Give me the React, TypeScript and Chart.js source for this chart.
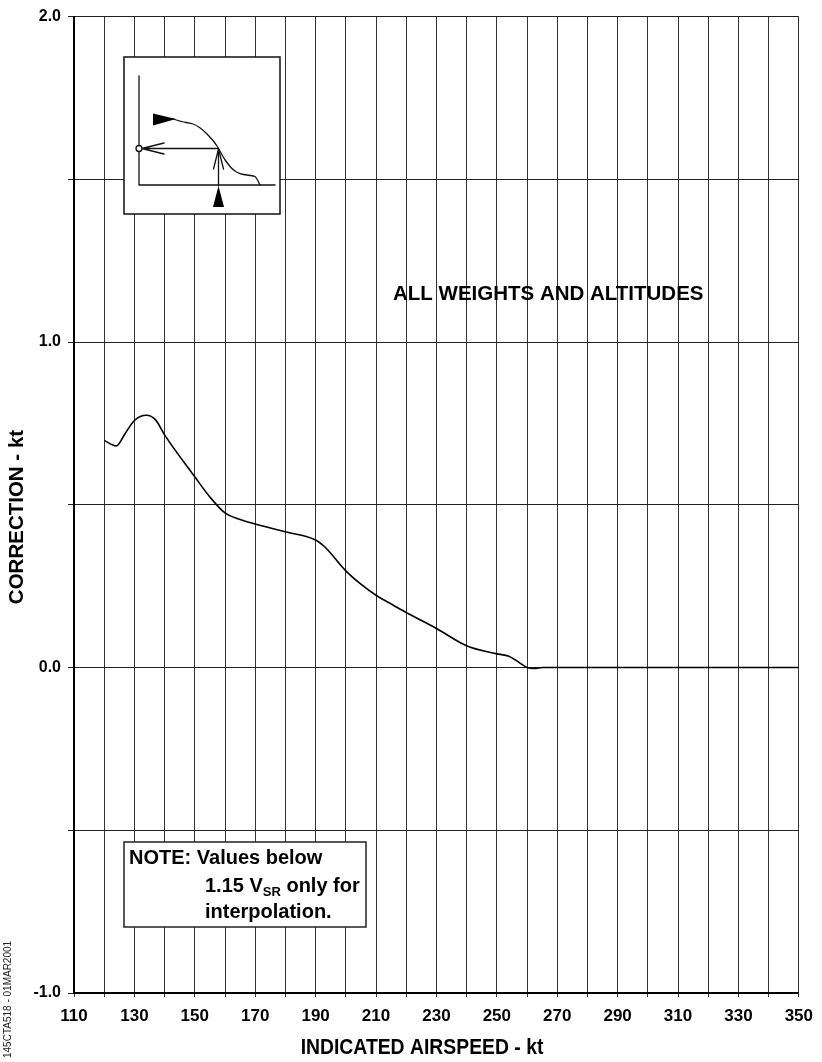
import React, { useEffect, useRef } from "react";
import { Chart, registerables } from "chart.js";

Chart.register(...registerables);

// ---- data ----
const airspeedKt: number[] = [
  120, 124, 127, 130, 134, 137, 140, 150, 155, 160, 165, 170, 180, 190, 193,
  200, 205, 210, 216, 220, 230, 240, 250, 254, 257, 260, 262.5, 265, 280, 300, 350,
];
const correctionKt: number[] = [
  0.698, 0.681, 0.72, 0.759, 0.775, 0.761, 0.715, 0.586, 0.524, 0.475, 0.455,
  0.441, 0.417, 0.392, 0.371, 0.297, 0.256, 0.222, 0.19, 0.169, 0.12, 0.067,
  0.042, 0.035, 0.018, 0.0, -0.003, 0.0, 0.0, 0.0, 0.0,
];
const xMin = 110;
const xMax = 350;
const xStep = 10;
const xLabelStep = 20;
const yMin = -1;
const yMax = 2;
const yStep = 0.5;

const xTitle = "INDICATED AIRSPEED - kt";
const yTitle = "CORRECTION - kt";
const chartNote = "ALL WEIGHTS AND ALTITUDES";
const noteLines = ["NOTE: Values below", "1.15 V", "interpolation."];
const figureCode = "145CTA518 - 01MAR2001";

const FONT = "'Liberation Sans', Arial, Helvetica, sans-serif";

const decorPlugin = {
  id: "decor",
  afterDraw(chart: any) {
    const ctx: CanvasRenderingContext2D = chart.ctx;
    ctx.save();

    // X axis title (slightly condensed, as in the reference)
    ctx.fillStyle = "#000";
    ctx.font = `bold 22px ${FONT}`;
    ctx.textAlign = "center";
    ctx.textBaseline = "middle";
    ctx.save();
    ctx.translate(422, 1048);
    ctx.scale(0.88, 1);
    ctx.fillText(xTitle, 0, 0);
    ctx.restore();

    // Y axis title
    ctx.font = `bold 20.5px ${FONT}`;
    ctx.save();
    ctx.translate(17, 517);
    ctx.rotate(-Math.PI / 2);
    ctx.fillText(yTitle, 0, 0);
    ctx.restore();

    // figure code
    ctx.save();
    ctx.font = `10px ${FONT}`;
    ctx.fillStyle = "#222";
    ctx.translate(11, 1058);
    ctx.rotate(-Math.PI / 2);
    ctx.textAlign = "left";
    ctx.textBaseline = "alphabetic";
    ctx.fillText(figureCode, 0, 0);
    ctx.restore();

    // ALL WEIGHTS AND ALTITUDES
    ctx.font = `bold 20.5px ${FONT}`;
    ctx.textAlign = "left";
    ctx.textBaseline = "alphabetic";
    ctx.fillText(chartNote, 393, 300);

    // Note box
    ctx.fillStyle = "#fff";
    ctx.fillRect(124, 842, 242, 85);
    ctx.strokeStyle = "#222";
    ctx.lineWidth = 1.5;
    ctx.strokeRect(124, 842, 242, 85);
    ctx.fillStyle = "#000";
    ctx.font = `bold 20px ${FONT}`;
    ctx.fillText(noteLines[0], 129, 864);
    let x = 205;
    ctx.fillText(noteLines[1], x, 891.5);
    x += ctx.measureText(noteLines[1]).width;
    ctx.font = `bold 13px ${FONT}`;
    ctx.fillText("SR", x, 895.5);
    x += ctx.measureText("SR").width;
    ctx.font = `bold 20px ${FONT}`;
    ctx.fillText(" only for", x, 891.5);
    ctx.fillText(noteLines[2], 205, 918);

    // Inset schematic
    ctx.fillStyle = "#fff";
    ctx.fillRect(124, 57, 156, 157);
    ctx.strokeStyle = "#111";
    ctx.lineWidth = 1.5;
    ctx.strokeRect(124, 57, 156, 157);
    ctx.lineWidth = 1.3;
    ctx.lineJoin = "round";
    ctx.lineCap = "round";
    ctx.beginPath();
    ctx.moveTo(139, 76);
    ctx.lineTo(139, 185);
    ctx.lineTo(275, 185);
    ctx.stroke();
    const pts = [
      [173, 119], [182, 122], [190, 123], [196, 125], [203, 130], [210, 137],
      [215, 143], [219, 149], [223, 157], [228, 164], [233, 170], [240, 174],
      [247, 175], [254, 176], [256, 177], [260, 185],
    ];
    ctx.beginPath();
    ctx.moveTo(pts[0][0], pts[0][1]);
    for (let i = 1; i < pts.length - 1; i++) {
      const mx = (pts[i][0] + pts[i + 1][0]) / 2;
      const my = (pts[i][1] + pts[i + 1][1]) / 2;
      ctx.quadraticCurveTo(pts[i][0], pts[i][1], mx, my);
    }
    ctx.lineTo(pts[pts.length - 1][0], pts[pts.length - 1][1]);
    ctx.stroke();
    ctx.fillStyle = "#000";
    ctx.beginPath();
    ctx.moveTo(153, 113.5);
    ctx.lineTo(153, 125.5);
    ctx.lineTo(176, 119);
    ctx.closePath();
    ctx.fill();
    ctx.beginPath();
    ctx.moveTo(213, 207);
    ctx.lineTo(224, 207);
    ctx.lineTo(218.5, 186);
    ctx.closePath();
    ctx.fill();
    ctx.beginPath();
    ctx.moveTo(218.5, 186);
    ctx.lineTo(218.5, 149);
    ctx.moveTo(213.5, 169);
    ctx.lineTo(218.5, 149);
    ctx.lineTo(223.5, 169);
    ctx.moveTo(218.5, 148.5);
    ctx.lineTo(141, 148.5);
    ctx.moveTo(164, 143);
    ctx.lineTo(142, 148.5);
    ctx.lineTo(164, 154);
    ctx.stroke();
    ctx.beginPath();
    ctx.arc(139, 148.5, 3, 0, Math.PI * 2);
    ctx.fillStyle = "#fff";
    ctx.fill();
    ctx.stroke();

    ctx.restore();
  },
};

export default function App() {
  const canvasRef = useRef<HTMLCanvasElement | null>(null);

  useEffect(() => {
    document.body.style.margin = "0";
    const canvas = canvasRef.current;
    if (!canvas) return;
    const points = airspeedKt.map((x, i) => ({ x, y: correctionKt[i] }));
    const chart = new Chart(canvas, {
      type: "line",
      data: {
        datasets: [
          {
            data: points,
            borderColor: "#000",
            borderWidth: 1.6,
            pointRadius: 0,
            fill: false,
            cubicInterpolationMode: "monotone",
          },
        ],
      },
      options: {
        responsive: false,
        animation: false,
        devicePixelRatio: 1,
        layout: { padding: { top: 12, right: 23, left: 0, bottom: 0 } },
        plugins: {
          legend: { display: false },
          tooltip: { enabled: false },
          title: { display: false },
        },
        scales: {
          x: {
            type: "linear",
            min: xMin,
            max: xMax,
            afterFit(scale: any) {
              scale.height = 69;
            },
            ticks: {
              stepSize: xStep,
              autoSkip: false,
              maxRotation: 0,
              padding: 9,
              color: "#000",
              font: { family: FONT, size: 17, weight: "bold" },
              callback: (v: any) =>
                (Number(v) - xMin) % xLabelStep === 0 ? String(v) : "",
            },
            grid: { color: "#333", lineWidth: 1, tickLength: 4 },
            border: { display: true, color: "#000", width: 2 },
          },
          y: {
            type: "linear",
            min: yMin,
            max: yMax,
            afterFit(scale: any) {
              scale.width = 74;
            },
            ticks: {
              stepSize: yStep,
              autoSkip: false,
              padding: 7,
              color: "#000",
              font: { family: FONT, size: 16, weight: "bold" },
              callback: (v: any) =>
                Number.isInteger(Number(v)) ? Number(v).toFixed(1) : "",
            },
            grid: { color: "#222", lineWidth: 1, tickLength: 6 },
            border: { display: true, color: "#000", width: 2 },
          },
        },
      },
      plugins: [decorPlugin],
    } as any);
    return () => chart.destroy();
  }, []);

  return (
    <div style={{ position: "absolute", left: 0, top: 0, width: 822, height: 1062 }}>
      <canvas ref={canvasRef} width={822} height={1062} style={{ display: "block" }} />
    </div>
  );
}
